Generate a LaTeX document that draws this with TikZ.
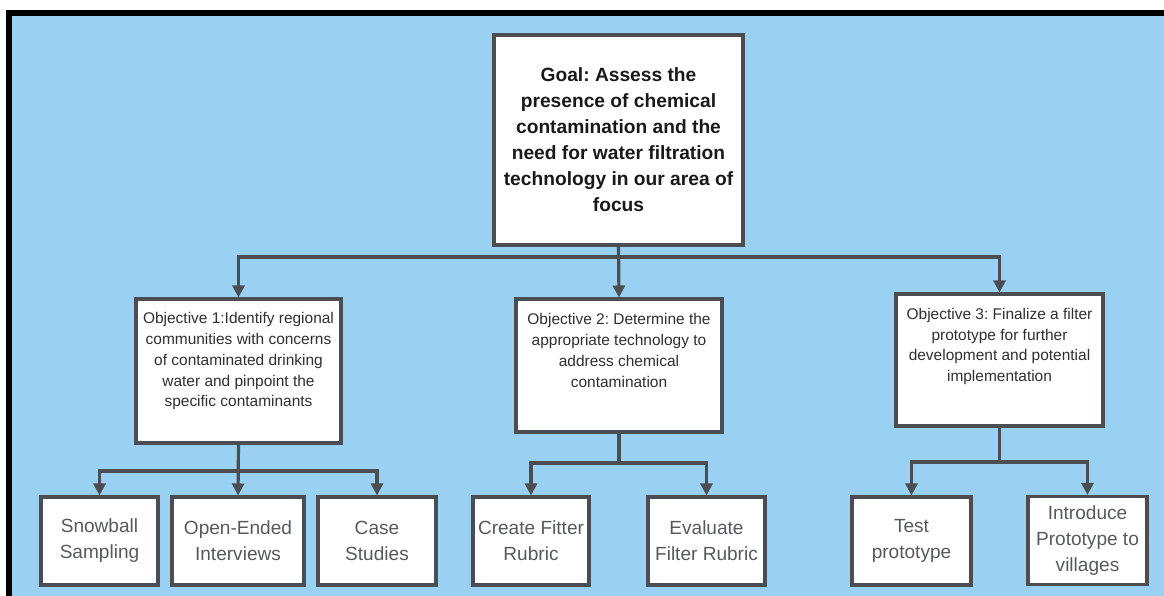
\documentclass[tikz,border=0pt]{standalone}
\usepackage{fontspec}
\setmainfont{Liberation Sans}
\usetikzlibrary{arrows.meta, positioning, shadows}
\definecolor{skyBg}{HTML}{9AD1F2}
\definecolor{edgeGray}{HTML}{4A4D52}
\definecolor{objText}{HTML}{303030}
\definecolor{leafText}{HTML}{565A5E}
\frenchspacing

\begin{document}
\begin{tikzpicture}[
  x=0.75pt, y=-0.75pt,
  box/.style={draw=edgeGray, fill=white, line width=2.3pt, inner sep=0pt,
              drop shadow={shadow xshift=0.8pt, shadow yshift=-1pt, opacity=0.2}},
  goalbox/.style={box, minimum width=186.75pt, minimum height=157.5pt,
                  font=\fontsize{14.4}{19.5}\selectfont\bfseries, text=black!90, align=center},
  objtext/.style={inner sep=0pt, font=\fontsize{11.6}{15.6}\selectfont,
                  text=objText, align=center},
  leafbox/.style={box, minimum height=66pt, font=\fontsize{14.3}{19.5}\selectfont,
                  text=leafText, align=center},
  arr/.style={-{Triangle[width=9pt,length=9pt]}, draw=edgeGray, line width=2.4pt},
  link/.style={draw=edgeGray, line width=2.4pt}
]
  \useasboundingbox (0,0) rectangle (1164,596);
  % frame and background
  \fill[skyBg] (12,16) rectangle (1164,596);
  \fill[black] (6,10) rectangle (1164,16);
  \fill[black] (6,10) rectangle (12,596);

  % goal
  \node[goalbox] (goal) at (618.5,140) {Goal: Assess the\\presence of chemical\\contamination and the\\need for water filtration\\technology in our area of\\focus};

  % objectives
  \node[box, minimum width=153.75pt, minimum height=108pt] (o1) at (238.5,371) {};
  \node[box, minimum width=154.5pt, minimum height=99.75pt] (o2) at (619,365.5) {};
  \node[box, minimum width=155.25pt, minimum height=99pt] (o3) at (999.5,360) {};
  \node[objtext, below=11pt of o1.north] (t1) {Objective 1:Identify regional\\communities with concerns\\of contaminated drinking\\water and pinpoint the\\specific contaminants};
  \node[objtext, below=12pt of o2.north] (t2) {Objective 2: Determine the\\appropriate technology to\\address chemical\\contamination};
  \node[objtext, below=11.5pt of o3.north] (t3) {Objective 3: Finalize a filter\\prototype for further\\development and potential\\implementation};

  % methods
  \node[leafbox, minimum width=87.75pt] (snow) at (99.5,541) {Snowball\\Sampling};
  \node[leafbox, minimum width=99pt] (open) at (238,541) {Open-Ended\\Interviews};
  \node[leafbox, minimum width=88.5pt] (case) at (377,541) {Case\\Studies};
  \node[leafbox, minimum width=87pt] (create) at (531,541) {Create Fitter\\Rubric};
  \node[leafbox, minimum width=87.75pt] (eval) at (706.5,541) {Evaluate\\Filter Rubric};
  \node[leafbox, minimum width=89.25pt] (test) at (911.5,541) {Test\\prototype};
  \node[leafbox, minimum width=89.25pt] (intro) at (1087.5,540.5) {Introduce\\Prototype to\\villages};

  % connectors
  \coordinate (j0) at (618.5,257);
  \coordinate (j1) at (238.5,471);
  \coordinate (j2) at (619,463);
  \coordinate (j3) at (999.5,462);

  \draw[arr] (goal.south) -- (o2.north);
  \draw[arr] (j0) -| (o1.north);
  \draw[arr] (j0) -| (o3.north);

  \draw[arr] (o1.south) -- (open.north);
  \draw[arr] (j1) -| (snow.north);
  \draw[arr] (j1) -| (case.north);

  \draw[link] (o2.south) -- (j2);
  \draw[arr] (j2) -| (create.north);
  \draw[arr] (j2) -| (eval.north);

  \draw[link] (o3.south) -- (j3);
  \draw[arr] (j3) -| (test.north);
  \draw[arr] (j3) -| (intro.north);
\end{tikzpicture}
\end{document}
